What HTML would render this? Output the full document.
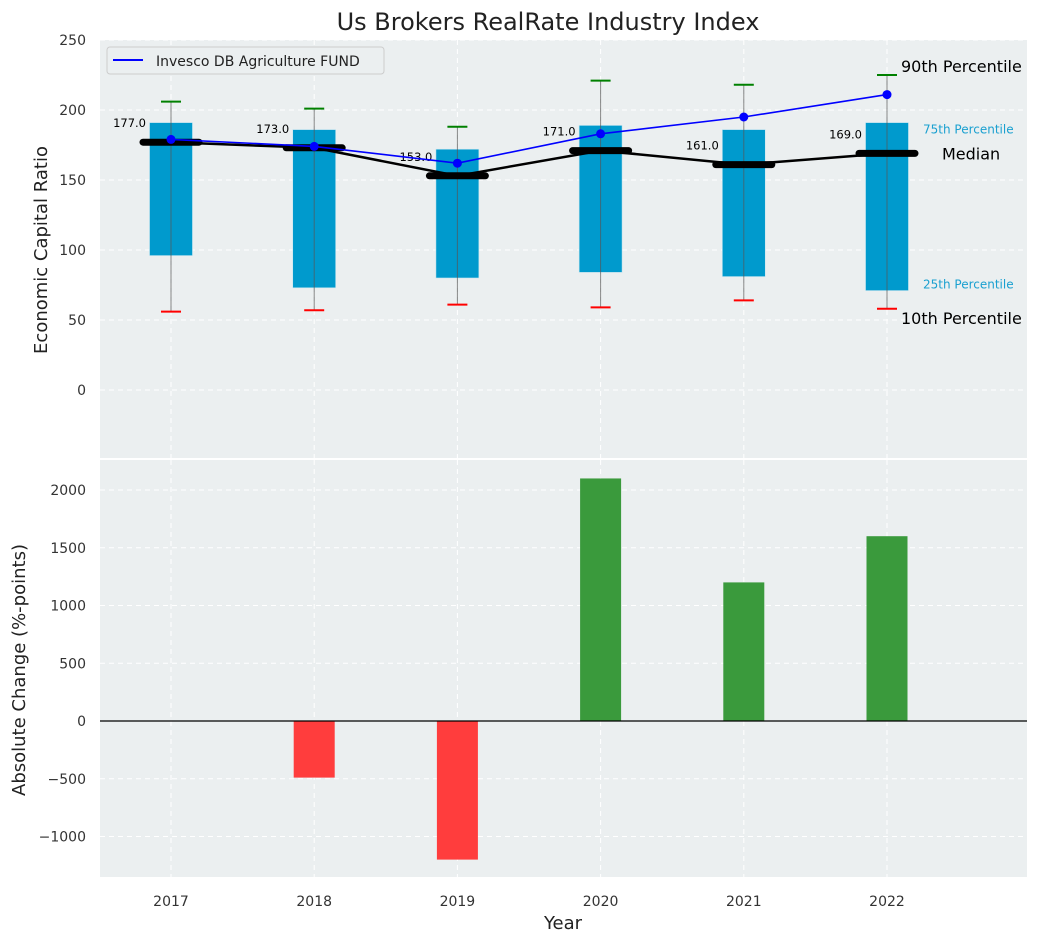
<!DOCTYPE html>
<html><head><meta charset="utf-8"><style>
body{margin:0;background:#fff;font-family:"DejaVu Sans","Liberation Sans",sans-serif;}
svg text{font-family:"DejaVu Sans","Liberation Sans",sans-serif;}
</style></head><body>
<svg id="c" width="1039" height="942" xmlns="http://www.w3.org/2000/svg"></svg>
<script>
const years=[2017,2018,2019,2020,2021,2022];
const p10=[56,57,61,59,64,58];
const p25=[96,73,80,84,81,71];
const medians=[177,173,153,171,161,169];
const p75=[191,186,172,189,186,191];
const p90=[206,201,188,221,218,225];
const fund=[179,174,162,183,195,211];
const changes=[0,-490,-1200,2100,1200,1600];
const topTicks=[0,50,100,150,200,250];
const botTicks=[-1000,-500,0,500,1000,1500,2000];

const NS="http://www.w3.org/2000/svg";
const svg=document.getElementById('c');
function el(t,a,parent){const e=document.createElementNS(NS,t);for(const k in a)e.setAttribute(k,a[k]);(parent||svg).appendChild(e);return e;}
const L=100,R=1027;
const x=v=>171+(v-2017)*143.2;
const yT=v=>390-v*1.4;
const yB=v=>721-v*0.1155;

// title
let t=el('text',{x:548,y:30,'text-anchor':'middle','font-size':24,fill:'#222'});t.textContent='Us Brokers RealRate Industry Index';



// panels
let bg1=el('rect',{x:L,y:40,width:R-L,height:418,fill:'#ebeff0'});


let bg2=el('rect',{x:L,y:460,width:R-L,height:417,fill:'#ebeff0'});



// grids
years.forEach(yr=>{
  el('line',{x1:x(yr),x2:x(yr),y1:40,y2:458,stroke:'#fff','stroke-dasharray':'5,4','stroke-width':1});
  el('line',{x1:x(yr),x2:x(yr),y1:460,y2:877,stroke:'#fff','stroke-dasharray':'5,4','stroke-width':1});
  let tl=el('text',{x:x(yr),y:906,'text-anchor':'middle','font-size':14,fill:'#333'});tl.textContent=yr;
  
  
});
topTicks.forEach(v=>{
  el('line',{x1:L,x2:R,y1:yT(v),y2:yT(v),stroke:'#fff','stroke-dasharray':'5,4'});
  let tl=el('text',{x:86,y:yT(v)+5,'text-anchor':'end','font-size':14,fill:'#333'});tl.textContent=v;
  
  
});
botTicks.forEach(v=>{
  el('line',{x1:L,x2:R,y1:yB(v),y2:yB(v),stroke:'#fff','stroke-dasharray':'5,4'});
  let tl=el('text',{x:86,y:yB(v)+5,'text-anchor':'end','font-size':14,fill:'#333'});tl.textContent=(v<0?'\u2212'+(-v):v);
  
  
});

// boxes
const bw=0.3*143.2;
years.forEach((yr,i)=>{
  let b=el('rect',{x:x(yr)-bw/2,y:yT(p75[i]),width:bw,height:yT(p25[i])-yT(p75[i]),fill:'#009acd',stroke:'#c8e6f0','stroke-width':0.6});
  
  
  el('line',{x1:x(yr),x2:x(yr),y1:yT(p90[i]),y2:yT(p10[i]),stroke:'#555','stroke-width':1,'stroke-opacity':0.7});
  let c1=el('line',{x1:x(yr)-10,x2:x(yr)+10,y1:yT(p90[i]),y2:yT(p90[i]),stroke:'green','stroke-width':2});
  
  
  let c2=el('line',{x1:x(yr)-10,x2:x(yr)+10,y1:yT(p10[i]),y2:yT(p10[i]),stroke:'red','stroke-width':2});
  
  
});
// median line
let mp=el('polyline',{points:years.map((yr,i)=>x(yr)+','+yT(medians[i])).join(' '),fill:'none',stroke:'#000','stroke-width':2.5});


years.forEach((yr,i)=>{
  let m=el('line',{x1:x(yr)-28,x2:x(yr)+28,y1:yT(medians[i]),y2:yT(medians[i]),stroke:'#000','stroke-width':7,'stroke-linecap':'round'});
  
  
  let lb=el('text',{x:x(yr)-25,y:yT(medians[i])-15,'text-anchor':'end','font-size':11.5,fill:'#000'});lb.textContent=medians[i].toFixed(1);
  
  
});
// fund
let fl=el('polyline',{points:years.map((yr,i)=>x(yr)+','+yT(fund[i])).join(' '),fill:'none',stroke:'#0000ff','stroke-width':1.6});


years.forEach((yr,i)=>{
  let d=el('circle',{cx:x(yr),cy:yT(fund[i]),r:4.5,fill:'#0000ff'});
  
  
});
// annotations
const last=years.length-1, xl=x(years[last]);
[['90th Percentile',xl+14,yT(p90[last])-3,16,'#000'],['75th Percentile',xl+36,yT(p75[last])+11,12,'#1aa0d0'],['Median',xl+55,yT(medians[last])+6,16,'#000'],['25th Percentile',xl+36,yT(p25[last])-2,12,'#1aa0d0'],['10th Percentile',xl+14,yT(p10[last])+15,16,'#000']].forEach(a=>{
  let tt=el('text',{x:a[1],y:a[2],'font-size':a[3],fill:a[4]});tt.textContent=a[0];
  
  
});
// legend
let lg=el('g',{});


el('rect',{x:107,y:47,width:277,height:27,rx:3,fill:'#ebeff0',stroke:'#ccc'},lg);
el('line',{x1:113,x2:143,y1:60,y2:60,stroke:'#0000ff','stroke-width':2},lg);
let lt=el('text',{x:156,y:66,'font-size':14,fill:'#222'},lg);lt.textContent='Invesco DB Agriculture FUND';

// bars
years.forEach((yr,i)=>{
  const v=changes[i];
  let b=el('rect',{x:x(yr)-20.5,y:Math.min(yB(v),yB(0)),width:41,height:Math.abs(yB(v)-yB(0)),fill:v>=0?'#3a9a3c':'#ff3d3d'});
  
  
});
el('line',{x1:L,x2:R,y1:yB(0),y2:yB(0),stroke:'#000','stroke-width':1.2});

// axis titles
let a1=el('text',{x:0,y:0,'text-anchor':'middle','font-size':18,fill:'#222',transform:'translate(47,250) rotate(-90)'});a1.textContent='Economic Capital Ratio';


let a2=el('text',{x:0,y:0,'text-anchor':'middle','font-size':18,fill:'#222',transform:'translate(25,670) rotate(-90)'});a2.textContent='Absolute Change (%-points)';


let a3=el('text',{x:563,y:929,'text-anchor':'middle','font-size':18,fill:'#222'});a3.textContent='Year';


</script>
</body></html>
